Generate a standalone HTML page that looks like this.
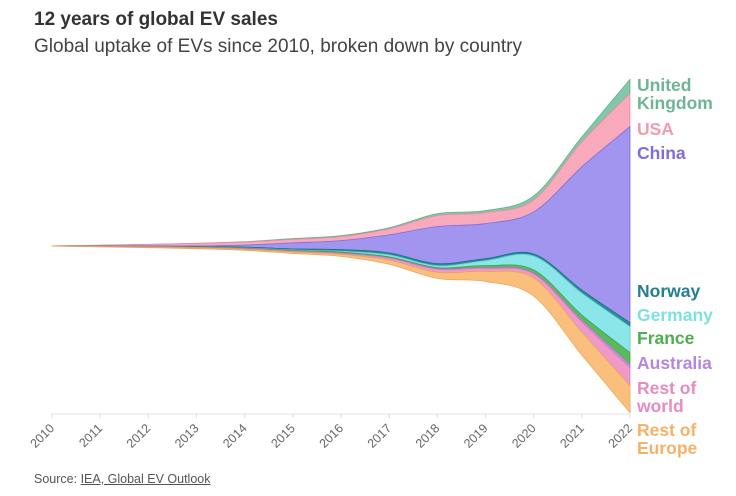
<!DOCTYPE html>
<html><head><meta charset="utf-8">
<style>
body{margin:0;background:#fff;font-family:"Liberation Sans",sans-serif;}
#wrap{position:relative;width:736px;height:496px;overflow:hidden;}
.t{position:absolute;left:34px;white-space:nowrap;}
</style></head>
<body>
<div id="wrap">
<div class="t" style="top:9px;font-size:19px;font-weight:bold;color:#333;">12 years of global EV sales</div>
<div class="t" style="top:36px;font-size:19px;color:#444;">Global uptake of EVs since 2010, broken down by country</div>
<svg id="chart" width="736" height="496" style="position:absolute;left:0;top:0"></svg>
<div class="t" style="top:472px;font-size:12.5px;color:#555;">Source: <span style="text-decoration:underline">IEA, Global EV Outlook</span></div>
</div>
<script>
const years=[2010,2011,2012,2013,2014,2015,2016,2017,2018,2019,2020,2021,2022];
const seriesNames=["United Kingdom","USA","China","Norway","Germany","France","Australia","Rest of world","Rest of Europe"];
// sales, thousands (approx)
const ukSales=[0,1,2,3,9,18,22,24,44,44,88,110,310];
const usaSales=[1,15,33,55,66,77,88,132,242,242,264,550,730];
const chinaSales=[1,5,7,11,44,132,198,396,814,770,924,2706,4310];
const norwaySales=[0,2,4,9,18,22,33,44,44,44,44,66,88];
const germanySales=[0,2,3,4,7,13,22,44,44,110,308,484,570];
const franceSales=[0,2,4,7,9,13,22,22,22,44,66,110,264];
const australiaSales=[0,0,0,1,2,3,5,8,14,18,22,44,66];
const rowSales=[1,5,13,11,13,15,22,44,66,66,88,220,396];
const roeSales=[1,4,8,18,22,33,44,88,132,220,396,506,594];
const allSeries=[ukSales,usaSales,chinaSales,norwaySales,germanySales,franceSales,australiaSales,rowSales,roeSales];
const colors=["#82c7a9","#f8a9bb","#a295ef","#2a8b9c","#8ae6e8","#5cba5e","#c595e2","#ef99c9","#fbbf7d"];
const strokes=["#6aae90","#e88ea2","#7e70d6","#1f7080","#5fc9cc","#43a045","#a97cc9","#d97fb2","#eca55e"];
const labelColors=["#6db595","#f19bb0","#7e6fd8","#237f90","#7fdfe2","#4cae4c","#b686de","#e68cc1","#f5b266"];

const x0=52,x1=630,centerY=246,pxPer=0.0455;
const xScale=i=>x0+(x1-x0)*(years[i]-years[0])/(years[years.length-1]-years[0]);
const yv=v=>v*pxPer;
const svg=document.getElementById('chart');
const NS="http://www.w3.org/2000/svg";
function mk(t,a){const e=document.createElementNS(NS,t);for(const k in a)e.setAttribute(k,a[k]);return e;}

const n=years.length;
const totals=years.map((_,i)=>allSeries.reduce((s,a)=>s+a[i],0));
const tops=[];let cur=years.map((_,i)=>centerY-yv(totals[i])/2);
allSeries.forEach(a=>{const top=cur.slice();const bot=cur.map((c,i)=>c+yv(a[i]));tops.push([top,bot]);cur=bot;});

function smooth(xs,ys){
  const m=xs.length,t=[];
  for(let i=0;i<m;i++){
    if(i==0)t.push((ys[1]-ys[0])/(xs[1]-xs[0]));
    else if(i==m-1)t.push((ys[m-1]-ys[m-2])/(xs[m-1]-xs[m-2]));
    else t.push((ys[i+1]-ys[i-1])/(xs[i+1]-xs[i-1]));
  }
  let s="";
  for(let i=0;i<m-1;i++){const h=(xs[i+1]-xs[i])/3;
    s+=` C${xs[i]+h},${ys[i]+t[i]*h} ${xs[i+1]-h},${ys[i+1]-t[i+1]*h} ${xs[i+1]},${ys[i+1]}`;}
  return s;
}
const xs=years.map((_,i)=>xScale(i));
const axis=mk('line',{x1:x0,y1:414,x2:x1,y2:414,stroke:'#e3e3e3','stroke-width':1});


svg.appendChild(axis);
years.forEach((yr,i)=>{
  const tk=mk('line',{x1:xs[i],y1:414,x2:xs[i],y2:418,stroke:'#ddd'});
  
  
  svg.appendChild(tk);
  const tx=mk('text',{x:xs[i]+3,y:429,'font-size':12.5,fill:'#666','text-anchor':'end',transform:`rotate(-45 ${xs[i]+3} 429)`,'font-family':'Liberation Sans, sans-serif'});
  tx.textContent=yr;
  
  
  svg.appendChild(tx);
});
tops.forEach(([top,bot],k)=>{
  const rx=xs.slice().reverse(),rb=bot.slice().reverse();
  const d=`M${xs[0]},${top[0]}`+smooth(xs,top)+` L${rx[0]},${rb[0]}`+smooth(rx,rb)+"Z";
  const p=mk('path',{d:d,fill:colors[k],stroke:strokes[k],'stroke-width':0.8});
  
  
  svg.appendChild(p);
});
const labelLines=[["United","Kingdom"],["USA"],["China"],["Norway"],["Germany"],["France"],["Australia"],["Rest of","world"],["Rest of","Europe"]];
const labelY=[91,135,159,297,321,344,369,394,436];
labelLines.forEach((ls,k)=>{
  const t=mk('text',{x:637,y:labelY[k],'font-size':17.5,'font-weight':'bold',fill:labelColors[k],'font-family':'Liberation Sans, sans-serif'});
  
  
  ls.forEach((l,j)=>{const s=mk('tspan',{x:637,dy:j?18:0});s.textContent=l;t.appendChild(s);});
  svg.appendChild(t);
});
</script>
</body></html>
